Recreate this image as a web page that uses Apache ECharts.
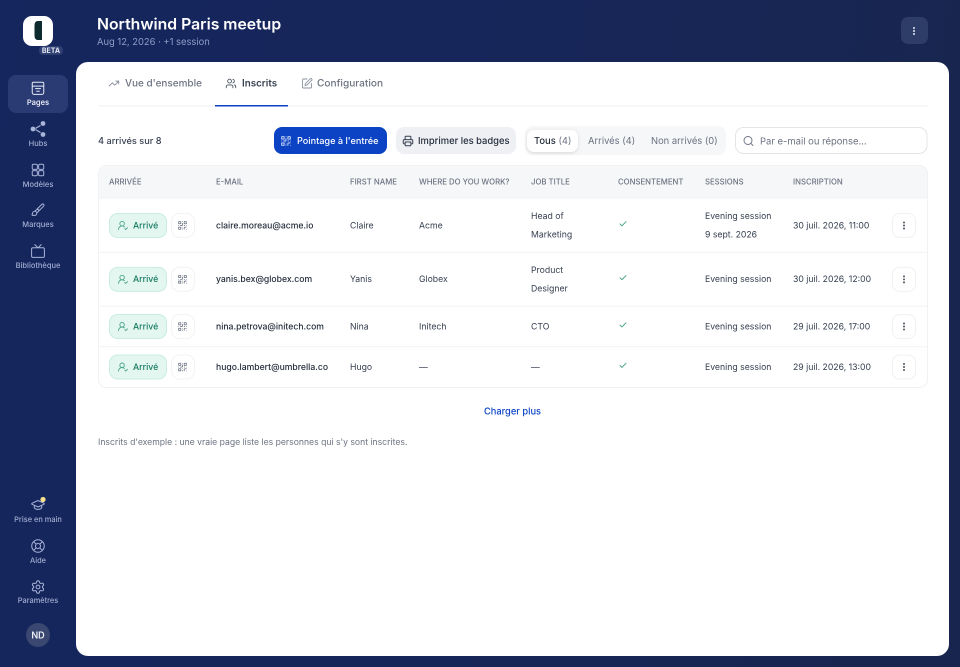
<!DOCTYPE html>
<html><head><meta charset="utf-8">
<style>html,body{margin:0;padding:0;background:#16265a}#c{width:960px;height:667px}</style>
<script src="https://cdn.jsdelivr.net/npm/echarts@6/dist/echarts.min.js"></script>
</head><body><div id="c"></div>
<script>
const pageTitle = "Northwind Paris meetup";
const pageSubtitle = "Aug 12, 2026 · +1 session";
const topNav = ["Pages","Hubs","Modèles","Marques","Bibliothèque"];
const bottomNav = ["Prise en main","Aide","Paramètres"];
const tabs = ["Vue d'ensemble","Inscrits","Configuration"];
const summary = "4 arrivés sur 8";
const filters = ["Tous","Arrivés","Non arrivés"];
const filterCounts = [4,4,0];
const columns = ["ARRIVÉE","E-MAIL","FIRST NAME","WHERE DO YOU WORK?","JOB TITLE","CONSENTEMENT","SESSIONS","INSCRIPTION"];
const emails = ["claire.moreau@acme.io","yanis.bex@globex.com","nina.petrova@initech.com","hugo.lambert@umbrella.co"];
const firstNames = ["Claire","Yanis","Nina","Hugo"];
const companies = ["Acme","Globex","Initech","—"];
const jobTitles = [["Head of","Marketing"],["Product","Designer"],["CTO"],["—"]];
const sessions = [["Evening session","9 sept. 2026"],["Evening session"],["Evening session"],["Evening session"]];
const signups = ["30 juil. 2026, 11:00","30 juil. 2026, 12:00","29 juil. 2026, 17:00","29 juil. 2026, 13:00"];
const statusLabel = "Arrivé";

const circ=(x,y,r)=>`M${x-r} ${y}a${r} ${r} 0 1 0 ${2*r} 0a${r} ${r} 0 1 0 ${-2*r} 0z`;
const rr=(x,y,s)=>`M${x+2} ${y}h${s-4}a2 2 0 0 1 2 2v${s-4}a2 2 0 0 1-2 2h${-(s-4)}a2 2 0 0 1-2-2v${-(s-4)}a2 2 0 0 1 2-2z`;
const P={
 trend:"M22 7 13.5 15.5 8.5 10.5 2 17M16 7h6v6",
 users:"M16 21v-2a4 4 0 0 0-4-4H6a4 4 0 0 0-4 4v2M16 3.128a4 4 0 0 1 0 7.744M22 21v-2a4 4 0 0 0-3-3.87"+circ(9,7,4),
 pen:"M12 3H5a2 2 0 0 0-2 2v14a2 2 0 0 0 2 2h14a2 2 0 0 0 2-2v-7M18.375 2.625a1 1 0 0 1 3 3l-9.013 9.014a2 2 0 0 1-.853.505l-2.873.84a.5.5 0 0 1-.62-.62l.84-2.873a2 2 0 0 1 .506-.852z",
 qr:"M3 3h5v5H3zM16 3h5v5h-5zM3 16h5v5H3zM21 16h-3a2 2 0 0 0-2 2v3M21 21v.01M12 7v3a2 2 0 0 1-2 2H7M3 12h.01M12 3h.01M12 16v.01M16 12h1M21 12v.01M12 21v-1",
 printer:"M6 18H4a2 2 0 0 1-2-2v-5a2 2 0 0 1 2-2h16a2 2 0 0 1 2 2v5a2 2 0 0 1-2 2h-2M6 9V3a1 1 0 0 1 1-1h10a1 1 0 0 1 1 1v6M6 14h12v7a1 1 0 0 1-1 1H7a1 1 0 0 1-1-1z",
 search:"M21 21l-4.34-4.34"+circ(11,11,8),
 check:"M20 6 9 17l-5-5",
 userCheck:"M2 21a8 8 0 0 1 13.292-6M16 19l2 2 4-4"+circ(10,8,5),
 pages:"M5 3h14a2 2 0 0 1 2 2v14a3 3 0 0 1-3 3H6a3 3 0 0 1-3-3V5a2 2 0 0 1 2-2zM3 9h18M8 13h8M10 17h4",
 hubs:"M15.42 6.51 8.59 10.49M8.59 13.51l6.83 3.98",
 models:rr(3,3,8)+rr(13,3,8)+rr(3,13,8)+rr(13,13,8),
 brush:"m11 10 3 3M6.5 21A3.5 3.5 0 1 0 3 17.5a2.62 2.62 0 0 1-.708 1.792A1 1 0 0 0 3 21zM9.969 17.031 21.378 5.624a1 1 0 0 0-3.002-3.002L6.967 14.031",
 tv:"m17 2-5 5-5-5M4 7h16a2 2 0 0 1 2 2v11a2 2 0 0 1-2 2H4a2 2 0 0 1-2-2V9a2 2 0 0 1 2-2z",
 cap:"M21.42 10.922a1 1 0 0 0-.019-1.838L12.83 5.18a2 2 0 0 0-1.66 0L2.6 9.08a1 1 0 0 0 0 1.832l8.57 3.908a2 2 0 0 0 1.66 0zM6 12.5V16a6 3 0 0 0 12 0v-3.5",
 buoy:circ(12,12,10)+circ(12,12,4)+"M4.93 4.93l4.24 4.24M14.83 9.17l4.24-4.24M14.83 14.83l4.24 4.24M9.17 14.83l-4.24 4.24",
 gear:"M9.671 4.136a2.34 2.34 0 0 1 4.659 0 2.34 2.34 0 0 0 3.319 1.915 2.34 2.34 0 0 1 2.33 4.033 2.34 2.34 0 0 0 0 3.831 2.34 2.34 0 0 1-2.33 4.033 2.34 2.34 0 0 0-3.319 1.915 2.34 2.34 0 0 1-4.659 0 2.34 2.34 0 0 0-3.32-1.915 2.34 2.34 0 0 1-2.33-4.033 2.34 2.34 0 0 0 0-3.831A2.34 2.34 0 0 1 6.35 6.051a2.34 2.34 0 0 0 3.319-1.915z"+circ(12,12,3),
 logo:"M42 21H38Q34.5 21 34.5 25.5V35.5Q34.5 40 38 40L42 40z"
};
Object.keys(P).forEach(k=>echarts.graphic.registerShape('ic_'+k,echarts.graphic.extendPath(P[k])));
const g=[];
const FF="Inter, 'Noto Sans', sans-serif";
const box=(x,y,w,h,r,fill,stroke,extra)=>g.push({type:'rect',shape:{x,y,width:w,height:h,r},silent:true,style:Object.assign({fill,stroke:stroke||'transparent',lineWidth:stroke?1:0},extra||{})});
const txt=(t,x,y,size,weight,fill,align)=>g.push({type:'text',silent:true,x,y:y+.7,style:{text:t,fill,font:`${weight} ${size}px ${FF}`,align:align||'left',verticalAlign:'middle'}});
const icon=(n,cx,cy,size,stroke,lw)=>{const s=size/20;g.push({type:'ic_'+n,silent:true,x:cx-12*s,y:cy-12*s,scaleX:s,scaleY:s,style:{fill:'none',stroke,lineWidth:lw/s,lineCap:'round',lineJoin:'round'}});};
const dots=(x,y,c)=>[-3,0,3].forEach(d=>g.push({type:'circle',silent:true,shape:{cx:x,cy:y+d,r:1},style:{fill:c}}));

// Backdrop
g.push({type:'rect',silent:true,shape:{x:0,y:0,width:960,height:667},style:{fill:{type:'linear',x:0,y:0,x2:1,y2:0.25,colorStops:[{offset:0,color:'#15265e'},{offset:.5,color:'#17265a'},{offset:1,color:'#18264f'}]}}});

// Logo
box(23,16,30,30,9,'#ffffff');
g.push({type:'ic_logo',silent:true,style:{fill:'#0d2a2e'}});
box(39,46,24,9,4,'#2f3f72');
txt("BETA",51,50,7,700,'#e5e9f5','center');

// Sidebar
box(8,75,60,38,8,'#2a3a72');
const topIcons=["pages","hubs","models","brush","tv"], topY=[88,129,170,210,251];
topNav.forEach((l,i)=>{
  const active=i===0, col=active?'#e8ecf8':'#a9b5d8', y=topY[i];
  if(i===1){icon('hubs',38,y,12,col,1.2);[[43,123.5],[33,129],[43,134.5]].forEach(c=>g.push({type:'circle',silent:true,shape:{cx:c[0],cy:c[1],r:2.4},style:{fill:col}}));}
  else icon(topIcons[i],38,y,i===3?12:12.8,col,1);
  txt(l,38,y+14,7.5,active?600:500,active?'#e8ecf8':'#a3afd2','center');
});
const botIcons=["cap","buoy","gear"], botY=[505,546,587];
bottomNav.forEach((l,i)=>{
  icon(botIcons[i],38,botY[i],12.5,'#a9b5d8',1);
  txt(l,38,botY[i]+14-(i===2?1:0),7.4,500,'#a3afd2','center');
});
g.push({type:'circle',silent:true,shape:{cx:43,cy:499.5,r:2.6},style:{fill:'#f7e08a'}});
g.push({type:'circle',silent:true,shape:{cx:38,cy:635,r:12},style:{fill:'#3a4770'}});
txt("ND",38,635,9,600,'#eef1f8','center');

// Header
txt(pageTitle,97,24,15.75,600,'#ffffff');
txt(pageSubtitle,97,41.5,9.4,400,'#8e9dc6');
box(901,17,27,27,7,'#2e3c68');
dots(914,31,'#e6eaf5');

// Card
box(76,62,873,594,12,'#ffffff');

// Tabs
g.push({type:'rect',silent:true,shape:{x:98,y:105.5,width:830,height:1},style:{fill:'#f0f1f3'}});
g.push({type:'rect',silent:true,shape:{x:215,y:105,width:73,height:1.5},style:{fill:'#0b43c4'}});
const tabIcons=["trend","users","pen"], tabIconX=[114,231,307], tabX=[125,242,317], tabSize=[9.95,9.8,10.1];
tabs.forEach((t,i)=>{
  const on=i===1;
  icon(tabIcons[i],tabIconX[i],83.5,i===2?10:9.5,on?'#4b5563':'#8a929e',.9);
  txt(t,tabX[i],83,tabSize[i],on?600:500,on?'#374151':'#6b7280');
});

// Toolbar
txt(summary,98,140.5,9.2,500,'#374151');
box(274,127,113,27,8,'#0b43c4');
icon('qr',286,141,9.5,'#dfe7fb',.9);
txt("Pointage à l'entrée",297,140.5,9.15,500,'#ffffff');
box(396,127,120,27,8,'#eef0f3');
icon('printer',408,141,9.5,'#374151',1);
txt("Imprimer les badges",418,140.5,9.4,500,'#1f2937');
box(525,126,201,29,8,'#f6f7f9');
box(527,130,51,22,7,'#ffffff',null,{shadowBlur:3,shadowColor:'rgba(0,0,0,.12)',shadowOffsetY:1});
const filterX=[534,588,651];
filters.forEach((f,i)=>{
  const s=f+" ("+filterCounts[i]+")";
  if(i===0){txt(f,534,140.5,9.4,500,'#1f2937');txt("("+filterCounts[i]+")",558.5,140.5,9.4,400,'#6b7280');}
  else txt(s,filterX[i],140.5,9.4,400,'#6b7280');
});
box(735.5,127.5,191.5,26,8,'#ffffff','#e3e5e9');
icon('search',748.5,141,10,'#6b7280',.9);
txt("Par e-mail ou réponse...",760,141,9.45,400,'#6b7280');

// Table
box(98.5,165.5,829,222,8,'#ffffff','#f1f2f4');
box(99,166,828,32,[8,8,0,0],'#f6f7f9');
g.push({type:'rect',silent:true,shape:{x:99,y:197.5,width:828,height:1},style:{fill:'#f0f1f3'}});
const colX=[109,216,350,419,531,618,705,793];
columns.forEach((c,i)=>txt(c,colX[i],181.3,7.75,500,'#6b7280'));

let rowTop=198.5;
emails.forEach((e,i)=>{
  const two=Math.max(jobTitles[i].length,sessions[i].length)>1;
  const h=two?53.9:40.5, cy=rowTop+h/2;
  if(i<emails.length-1) g.push({type:'rect',silent:true,shape:{x:99,y:rowTop+h-.5,width:828,height:1},style:{fill:'#f3f4f6'}});
  box(109.5,cy-12,57,24,8,'#e3f6f0','#c9eee1');
  icon('userCheck',123,cy,9,'#4ba58b',.9);
  txt(statusLabel,133,cy-.5,8.7,500,'#147a5e');
  box(171.5,cy-12,23,24,8,'#ffffff','#f2f3f5');
  icon('qr',182.5,cy,8.5,'#6b7280',.8);
  txt(e,216,cy-.5,8.65,500,'#1f2937');
  txt(firstNames[i],350,cy-.5,8.7,400,'#374151');
  txt(companies[i],419,cy-.5,8.7,400,'#374151');
  const multi=(arr,x)=>arr.forEach((l,k)=>txt(l,x,cy-.5+(k-(arr.length-1)/2)*18.6,8.7,400,'#374151'));
  multi(jobTitles[i],531);
  icon('check',623,cy-1.5,7.5,'#3f9f86',.9);
  multi(sessions[i],705);
  txt(signups[i],793,cy-.5,8.7,400,'#374151');
  box(892.5,cy-12,23,24,7,'#ffffff','#f0f1f3');
  dots(904,cy,'#4b5563');
  rowTop+=h;
});

txt("Charger plus",512.5,411,9.3,500,'#0b43c4','center');
txt("Inscrits d'exemple : une vraie page liste les personnes qui s'y sont inscrites.",98,441.7,8.65,400,'#6b7280');

const chart=echarts.init(document.getElementById('c'),null,{renderer:'canvas',width:960,height:667,devicePixelRatio:2});
chart.setOption({animation:false,backgroundColor:'#16265a',graphic:{elements:g}});
</script></body></html>
